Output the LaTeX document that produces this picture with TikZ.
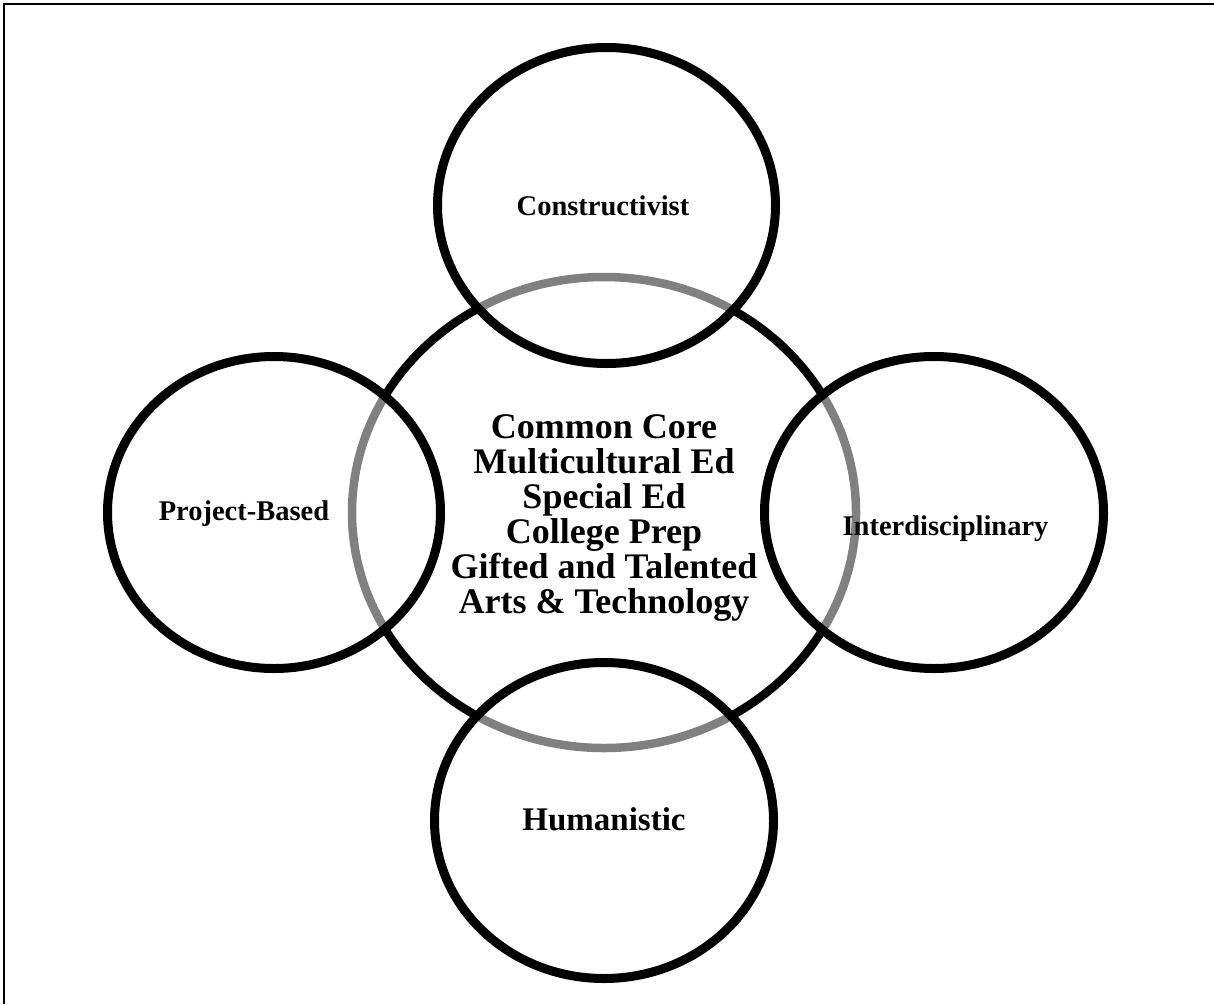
\documentclass[tikz,border=0pt]{standalone}
\usepackage{fontspec}
\setmainfont{Liberation Serif}
\begin{document}
\begin{tikzpicture}[x=1pt,y=-1pt,
  ring/.style={line width=9pt, draw=black},
  veil/.style={fill=white, fill opacity=0.5},
  satlabel/.style={font=\fontsize{28.5}{30}\selectfont\bfseries, inner sep=0pt, anchor=base},
  corelabel/.style={font=\fontsize{36}{35}\selectfont\bfseries, align=center, inner sep=0pt}]
\useasboundingbox (0,0) rectangle (1214,1004);
\fill[white] (0,0) rectangle (1214,1004);
% frame (top and left only)
\draw[line width=2.5pt] (4,1004) -- (4,4) -- (1214,4);
% central ellipse
\draw[line width=8.5pt] (604,512.5) ellipse [x radius=252pt, y radius=235.5pt];
% satellites: half-transparent white fill greys the central ring beneath
\fill[veil] (606.5,205.5) ellipse [x radius=169pt, y radius=158pt];
\fill[veil] (274,512.5) ellipse [x radius=166.5pt, y radius=156pt];
\fill[veil] (934,512.5) ellipse [x radius=169.5pt, y radius=156pt];
\fill[veil] (604,820.5) ellipse [x radius=169.5pt, y radius=158pt];
\draw[ring] (606.5,205.5) ellipse [x radius=169pt, y radius=158pt];
\draw[ring] (274,512.5) ellipse [x radius=166.5pt, y radius=156pt];
\draw[ring] (934,512.5) ellipse [x radius=169.5pt, y radius=156pt];
\draw[ring] (604,820.5) ellipse [x radius=169.5pt, y radius=158pt];
% labels
\node[satlabel] (cons) at (603,215) {Constructivist};
\node[satlabel] (proj) at (244,520) {Project-Based};
\node[satlabel] (inter) at (945.5,535) {Interdisciplinary};
\node[satlabel, font=\fontsize{33}{35}\selectfont\bfseries] (human) at (604,830) {Humanistic};
\node[corelabel] (core) at (604,518) {Common Core\\Multicultural Ed\\Special Ed\\College Prep\\Gifted and Talented\\Arts \& Technology};
\end{tikzpicture}
\end{document}
